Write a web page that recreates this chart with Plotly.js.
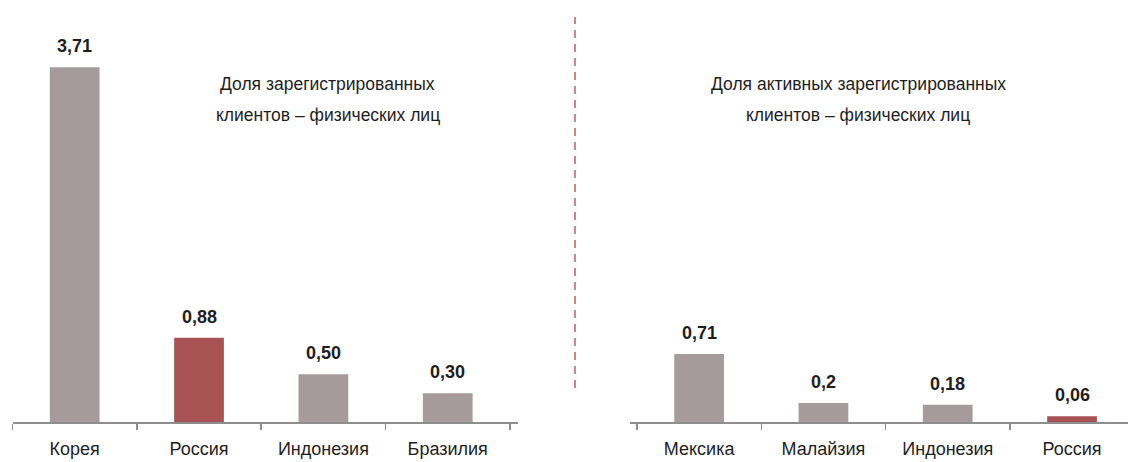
<!DOCTYPE html>
<html>
<head>
<meta charset="utf-8">
<script src="https://cdn.plot.ly/plotly-3.0.1.min.js"></script>
<style>
html,body{margin:0;padding:0;background:#fff;}
#chart{width:1128px;height:462px;}
</style>
</head>
<body>
<div id="chart"></div>
<script>
// ---- data ----
const leftCategories = ['Корея', 'Россия', 'Индонезия', 'Бразилия'];
const leftValues = [3.71, 0.88, 0.50, 0.30];
const leftLabels = ['3,71', '0,88', '0,50', '0,30'];

const rightCategories = ['Мексика', 'Малайзия', 'Индонезия', 'Россия'];
const rightValues = [0.71, 0.2, 0.18, 0.06];
const rightLabels = ['0,71', '0,2', '0,18', '0,06'];

const highlightCategory = 'Россия';

const leftTitleLines = ['Доля зарегистрированных', 'клиентов – физических лиц'];
const rightTitleLines = ['Доля активных зарегистрированных', 'клиентов – физических лиц'];

// ---- styles ----
const GREY = '#a69b9c';
const RED = '#a85253';
const AXIS = '#8e8e8e';
const TEXT = '#1e1e1e';
const FONT = '"Liberation Sans", Arial, sans-serif';
const W = 1128, H = 462;

function colorsFor(cats) { return cats.map(c => c === highlightCategory ? RED : GREY); }

const traces = [
  { type: 'bar', x: leftCategories, y: leftValues, xaxis: 'x', yaxis: 'y',
    marker: { color: colorsFor(leftCategories) }, hoverinfo: 'skip' },
  { type: 'bar', x: rightCategories, y: rightValues, xaxis: 'x2', yaxis: 'y2',
    marker: { color: colorsFor(rightCategories) }, hoverinfo: 'skip' }
];

const annotations = [];
function addValueLabels(cats, vals, labels, xref, yref) {
  cats.forEach((c, i) => annotations.push({
    x: c, y: vals[i], xref: xref, yref: yref, text: labels[i],
    showarrow: false, yanchor: 'middle', yshift: 21,
    font: { family: FONT, size: 18, color: TEXT, weight: 700 }
  }));
}
addValueLabels(leftCategories, leftValues, leftLabels, 'x', 'y');
addValueLabels(rightCategories, rightValues, rightLabels, 'x2', 'y2');

const plotH = 422;
function titleAnno(lines, cx) {
  const ys = [84, 115];
  lines.forEach((t, i) => annotations.push({
    x: cx / W, y: (plotH - ys[i]) / plotH, xref: 'paper', yref: 'paper',
    text: t, showarrow: false, xanchor: 'center', yanchor: 'middle',
    font: { family: FONT, size: 17.5, color: TEXT }
  }));
}
titleAnno(leftTitleLines, 327.5);
titleAnno(rightTitleLines, 858);

const xBase = {
  type: 'category', showgrid: false, zeroline: false,
  showline: true, linecolor: AXIS, linewidth: 1.5,
  ticks: 'outside', ticklen: 6, tickwidth: 1.5, tickcolor: AXIS,
  tickson: 'boundaries', ticklabelstandoff: 10,
  tickfont: { family: FONT, size: 18, color: TEXT },
  fixedrange: true
};
const yBase = { visible: false, range: [0, 4.414], fixedrange: true };

const layout = {
  width: W, height: H,
  margin: { l: 0, r: 0, t: 0, b: 40 },
  paper_bgcolor: '#fff', plot_bgcolor: '#fff',
  showlegend: false, bargap: 0.6,
  xaxis: Object.assign({}, xBase, { domain: [12.5 / W, 518 / W], range: [-0.5, 3.565], anchor: 'y' }),
  xaxis2: Object.assign({}, xBase, { domain: [630 / W, 1], range: [-0.556, 3.45], anchor: 'y2' }),
  yaxis: Object.assign({}, yBase, { anchor: 'x' }),
  yaxis2: Object.assign({}, yBase, { anchor: 'x2' }),
  annotations: annotations,
  shapes: [{
    type: 'line', xref: 'paper', yref: 'paper',
    x0: 575 / W, x1: 575 / W, y0: (plotH - 388) / plotH, y1: (plotH - 17) / plotH,
    line: { color: '#c65a5a', width: 1.5, dash: '8px,6px' }
  }]
};

Plotly.newPlot('chart', traces, layout, { displayModeBar: false, staticPlot: true });
</script>
</body>
</html>
